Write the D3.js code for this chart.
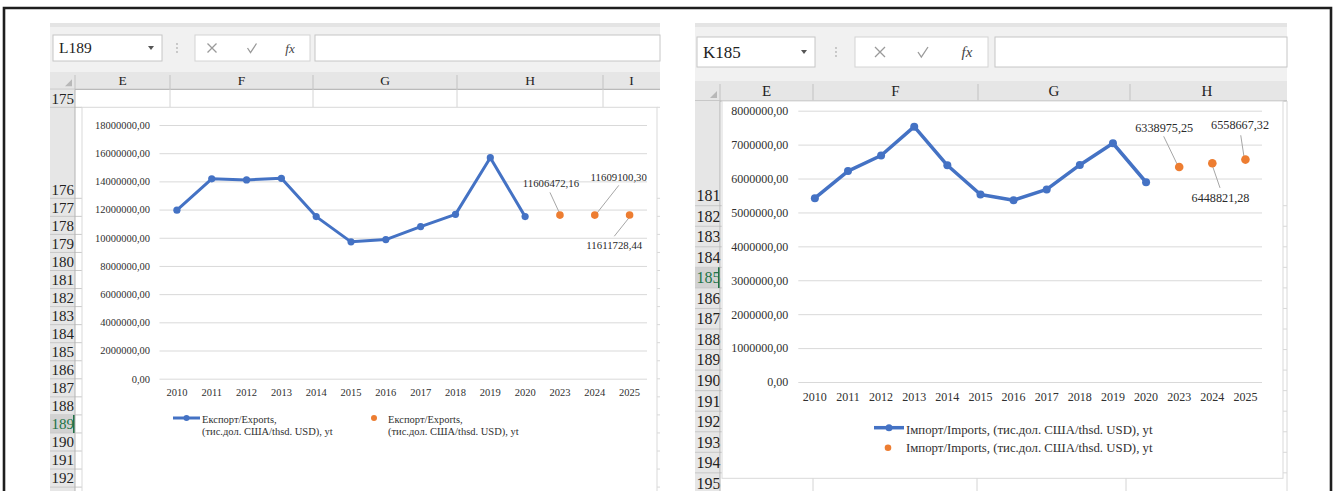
<!DOCTYPE html>
<html><head><meta charset="utf-8">
<script src="https://cdn.jsdelivr.net/npm/d3@7"></script>
<style>html,body{margin:0;padding:0;background:#fff;overflow:hidden}svg{display:block}</style>
</head><body>
<script>
// ---------------- DATA ----------------
const years = ["2010","2011","2012","2013","2014","2015","2016","2017","2018","2019","2020","2023","2024","2025"];
const actualYears = ["2010","2011","2012","2013","2014","2015","2016","2017","2018","2019","2020"];
const forecastYears = ["2023","2024","2025"];
const exportsActual = [11960000, 14180000, 14100000, 14220000, 11500000, 9710000, 9870000, 10790000, 11660000, 15680000, 11500000];
const exportsForecast = [11606472.16, 11609100.30, 11611728.44];
const importsActual = [5420000, 6220000, 6680000, 7530000, 6390000, 5530000, 5360000, 5680000, 6400000, 7040000, 5890000];
const importsForecast = [6338975.25, 6448821.28, 6558667.32];
const exportTicks = [0, 2000000, 4000000, 6000000, 8000000, 10000000, 12000000, 14000000, 16000000, 18000000];
const importTicks = [0, 1000000, 2000000, 3000000, 4000000, 5000000, 6000000, 7000000, 8000000];
const exportLegend = ["Експорт/Exports,", "(тис.дол. США/thsd. USD), yt"];
const importLegend = "Імпорт/Imports, (тис.дол. США/thsd. USD), yt";
const leftColumns = ["E","F","G","H","I"];
const rightColumns = ["E","F","G","H"];
const leftRows = [175,176,177,178,179,180,181,182,183,184,185,186,187,188,189,190,191,192];
const rightRows = [181,182,183,184,185,186,187,188,189,190,191,192,193,194,195];

// ---------------- SETUP ----------------
const W = 1336, H = 491;
const SERIF = "'Liberation Serif','Times New Roman',serif";
const BLUE = "#4472c4", ORANGE = "#ed7d31", TXT = "#303030";
const fmt = v => v.toFixed(2).replace(".", ",");
const svg = d3.select("body").append("svg").attr("width", W).attr("height", H)
  .style("font-family", SERIF);

// ---------------- SHEET CHROME ----------------
function drawSheet(o) {
  const g = svg.append("g");
  g.append("rect").attr("x", o.x0).attr("y", o.top).attr("width", o.x1 - o.x0).attr("height", o.hdrY0 - o.top).attr("fill", "#f1f1f1");
  g.append("rect").attr("x", o.x0).attr("y", o.top).attr("width", o.x1 - o.x0).attr("height", 4).attr("fill", "#e4e4e4");
  const nb = o.nameBox;
  g.append("rect").attr("x", nb.x).attr("y", nb.y).attr("width", nb.w).attr("height", nb.h).attr("fill", "#fff").attr("stroke", "#c6c6c6");
  g.append("text").attr("x", nb.x + 6).attr("y", nb.y + nb.h / 2).attr("dy", "0.35em").attr("font-size", nb.fs).attr("fill", "#222").text(nb.text);
  const ax = nb.x + nb.w - 11, ay = nb.y + nb.h / 2;
  g.append("path").attr("d", `M${ax-3},${ay-2}L${ax+3},${ay-2}L${ax},${ay+2}Z`).attr("fill", "#555");
  [-4, 0, 4].forEach(d => g.append("circle").attr("cx", o.dotsX).attr("cy", nb.y + nb.h / 2 + d).attr("r", 0.9).attr("fill", "#b5b5b5"));
  const cb = o.cancelBox;
  g.append("rect").attr("x", cb.x).attr("y", nb.y).attr("width", cb.w).attr("height", nb.h).attr("fill", "#fff").attr("stroke", "#d4d4d4");
  const cy = nb.y + nb.h / 2;
  const s = o.iconS;
  g.append("path").attr("d", `M${cb.xX-s},${cy-s}L${cb.xX+s},${cy+s}M${cb.xX+s},${cy-s}L${cb.xX-s},${cy+s}`).attr("stroke", "#9a9a9a").attr("stroke-width", 1.3);
  g.append("path").attr("d", `M${cb.xV-s},${cy}L${cb.xV-s/3},${cy+s}L${cb.xV+s},${cy-s}`).attr("stroke", "#9a9a9a").attr("stroke-width", 1.3).attr("fill", "none");
  g.append("text").attr("x", cb.xF).attr("y", cy).attr("dy", "0.35em").attr("text-anchor", "middle").attr("font-style", "italic").attr("font-size", o.fxFs).attr("fill", "#444").text("fx");
  g.append("rect").attr("x", o.formulaX).attr("y", nb.y).attr("width", o.x1 - o.formulaX).attr("height", nb.h).attr("fill", "#fff").attr("stroke", "#c6c6c6");
  g.append("rect").attr("x", o.x0).attr("y", o.hdrY0).attr("width", o.x1 - o.x0).attr("height", o.hdrY1 - o.hdrY0).attr("fill", "#e6e6e6");
  g.append("line").attr("x1", o.x0).attr("x2", o.x1).attr("y1", o.hdrY1).attr("y2", o.hdrY1).attr("stroke", "#ababab");
  const edges = o.colEdges;
  o.columns.forEach((c, i) => {
    g.append("text").attr("x", (edges[i] + edges[i + 1]) / 2).attr("y", (o.hdrY0 + o.hdrY1) / 2).attr("dy", "0.35em")
      .attr("text-anchor", "middle").attr("font-size", o.colFs).attr("fill", "#222").text(c);
  });
  edges.slice(0, -1).forEach(e => g.append("line").attr("x1", e).attr("x2", e).attr("y1", o.hdrY0 + 3).attr("y2", o.hdrY1).attr("stroke", "#c2c2c2"));
  const tx = o.rowX1 - 3, ty = o.hdrY1 - 3;
  g.append("path").attr("d", `M${tx},${ty-7}L${tx},${ty}L${tx-7},${ty}Z`).attr("fill", "#b8b8b8");
  g.append("rect").attr("x", o.x0).attr("y", o.hdrY1).attr("width", o.rowX1 - o.x0).attr("height", H - o.hdrY1).attr("fill", "#e6e6e6");
  o.rows.forEach(r => {
    if (r.sel) g.append("rect").attr("x", o.x0).attr("y", r.y0).attr("width", o.rowX1 - o.x0).attr("height", r.y1 - r.y0).attr("fill", "#d2d2d2");
    g.append("line").attr("x1", o.x0).attr("x2", o.chartX0).attr("y1", r.y1).attr("y2", r.y1).attr("stroke", "#c8c8c8");
    g.append("line").attr("x1", o.chartX1).attr("x2", o.x1).attr("y1", r.y1).attr("y2", r.y1).attr("stroke", "#d8d8d8");
    g.append("text").attr("x", o.x0 + 1.5).attr("y", r.y1 - o.rowStep / 2).attr("dy", "0.35em").attr("font-size", o.rowFs)
      .attr("fill", r.sel ? "#217346" : "#222").text(r.label);
    if (r.sel) g.append("line").attr("x1", o.rowX1 - 1).attr("x2", o.rowX1 - 1).attr("y1", r.y0).attr("y2", r.y1).attr("stroke", "#217346").attr("stroke-width", 2);
  });
  g.append("line").attr("x1", o.rowX1).attr("x2", o.rowX1).attr("y1", o.hdrY1).attr("y2", H).attr("stroke", "#b4b4b4");
  return g;
}

// ---------------- CHART ----------------
function drawChart(c) {
  const g = svg.append("g");
  g.append("rect").attr("x", c.box[0]).attr("y", c.box[1]).attr("width", c.box[2] - c.box[0]).attr("height", c.box[3] - c.box[1])
    .attr("fill", "#fff").attr("stroke", "#d9d9d9");
  const x = d3.scaleBand().domain(years).range(c.xRange);
  const cx = d => x(d) + x.bandwidth() / 2;
  const y = d3.scaleLinear().domain([0, c.yMax]).range(c.yRange);
  const ya = g.append("g").attr("transform", `translate(${c.xRange[0]},0)`)
    .call(d3.axisLeft(y).tickValues(c.ticks).tickSize(-(c.xRange[1] - c.xRange[0])).tickPadding(c.yPad).tickFormat(fmt));
  ya.select(".domain").remove();
  ya.selectAll(".tick line").attr("stroke", "#d9d9d9");
  ya.selectAll(".tick text").attr("font-family", SERIF).attr("font-size", c.fs).attr("fill", TXT);
  const xa = g.append("g").attr("transform", `translate(0,${c.yRange[0]})`)
    .call(d3.axisBottom(x).tickSize(0).tickPadding(c.xPad));
  xa.select(".domain").remove();
  xa.selectAll(".tick text").attr("font-family", SERIF).attr("font-size", c.fs).attr("fill", TXT);
  const pts = actualYears.map((yr, i) => [cx(yr), y(c.actual[i])]);
  g.append("path").attr("d", d3.line()(pts)).attr("fill", "none").attr("stroke", BLUE).attr("stroke-width", c.lw).attr("stroke-linejoin", "round");
  g.selectAll(null).data(pts).join("circle").attr("cx", d => d[0]).attr("cy", d => d[1]).attr("r", c.mr).attr("fill", BLUE);
  const fp = forecastYears.map((yr, i) => [cx(yr), y(c.forecast[i]), c.forecast[i]]);
  fp.forEach((p, i) => {
    const L = c.labels[i];
    const lx = p[0] + L.dx, ly = p[1] + L.dy;
    g.append("line").attr("x1", p[0] + L.p[0]).attr("y1", p[1] + L.p[1]).attr("x2", lx + L.q[0]).attr("y2", ly + L.q[1])
      .attr("stroke", "#a6a6a6").attr("stroke-width", 1);
    g.append("text").attr("x", lx).attr("y", ly).attr("dy", "0.35em").attr("text-anchor", "middle")
      .attr("font-size", c.lfs).attr("fill", "#2a2a2a").text(fmt(p[2]));
  });
  g.selectAll(null).data(fp).join("circle").attr("cx", d => d[0]).attr("cy", d => d[1]).attr("r", c.dr).attr("fill", ORANGE);
  return g;
}

// ---------------- LEFT SHEET ----------------
const lRowStep = 18.05;
const lRows = leftRows.map(n => {
  let y0, y1;
  if (n === 175) { y0 = 89.3; y1 = 107.3; }
  else if (n === 176) { y0 = 107.3; y1 = 198.3; }
  else { y0 = 198.3 + (n - 177) * lRowStep; y1 = y0 + lRowStep; }
  return { label: n, y0, y1, sel: n === 189 };
});
drawSheet({
  x0: 50, x1: 660, top: 23, hdrY0: 72, hdrY1: 89.3, rowX1: 75,
  nameBox: { x: 53, y: 35, w: 109, h: 26, text: "L189", fs: 15.5 },
  dotsX: 177, cancelBox: { x: 195, w: 115, xX: 212, xV: 252, xF: 290 }, iconS: 4.5, fxFs: 13,
  formulaX: 315, columns: leftColumns, colEdges: [75, 170, 313, 457, 603, 660], colFs: 13.5,
  rows: lRows, rowStep: lRowStep, rowFs: 15, chartX0: 82, chartX1: 657
});
[170, 313, 457, 603].forEach(e => svg.append("line").attr("x1", e).attr("x2", e).attr("y1", 89.3).attr("y2", 107.3).attr("stroke", "#d4d4d4"));

drawChart({
  box: [82, 107.3, 657, 520], xRange: [159.5, 647], yRange: [378.7, 125], yMax: 18000000, ticks: exportTicks,
  actual: exportsActual, forecast: exportsForecast, fs: 10.5, lfs: 10.8, yPad: 9.5, xPad: 10.2, lw: 3, mr: 3.6, dr: 3.8,
  labels: [
    { dx: -9, dy: -31.4, p: [-0.4, -2], q: [-1, 8.7] },
    { dx: 24, dy: -37.4, p: [2.2, -2], q: [0, 7.7] },
    { dx: -15.3, dy: 30.5, p: [0, 2], q: [0, -9.3] }
  ]
});
svg.append("line").attr("x1", 173).attr("x2", 200).attr("y1", 418).attr("y2", 418).attr("stroke", BLUE).attr("stroke-width", 3);
svg.append("circle").attr("cx", 186.5).attr("cy", 418).attr("r", 3).attr("fill", BLUE);
exportLegend.forEach((t, i) => svg.append("text").attr("x", 202).attr("y", 419.3 + i * 12.4).attr("dy", "0.35em").attr("font-size", 10.5).attr("fill", TXT).text(t));
svg.append("circle").attr("cx", 374).attr("cy", 418).attr("r", 3).attr("fill", ORANGE);
exportLegend.forEach((t, i) => svg.append("text").attr("x", 388).attr("y", 419.3 + i * 12.4).attr("dy", "0.35em").attr("font-size", 10.5).attr("fill", TXT).text(t));

// ---------------- RIGHT SHEET ----------------
const rRowStep = 20.55;
const rRows = rightRows.map(n => {
  let y0, y1;
  if (n === 181) { y0 = 101; y1 = 205.7; }
  else { y0 = 205.7 + (n - 182) * rRowStep; y1 = y0 + rRowStep; }
  return { label: n, y0, y1, sel: n === 185 };
});
drawSheet({
  x0: 695, x1: 1287, top: 23, hdrY0: 81, hdrY1: 101, rowX1: 720,
  nameBox: { x: 697, y: 37, w: 118, h: 30, text: "K185", fs: 17 },
  dotsX: 836, cancelBox: { x: 855, w: 133, xX: 880, xV: 923, xF: 967 }, iconS: 5, fxFs: 15,
  formulaX: 995, columns: rightColumns, colEdges: [720, 813, 978, 1130, 1284], colFs: 15,
  rows: rRows, rowStep: rRowStep, rowFs: 16, chartX0: 722, chartX1: 1283
});
drawChart({
  box: [722, 101, 1283, 478.3], xRange: [798.3, 1262], yRange: [382, 110.7], yMax: 8000000, ticks: importTicks,
  actual: importsActual, forecast: importsForecast, fs: 12, lfs: 12.2, yPad: 10, xPad: 10.4, lw: 3.5, mr: 4, dr: 4.3,
  labels: [
    { dx: -15, dy: -39.4, p: [-2, -2.7], q: [-0.5, 8.7] },
    { dx: 8.2, dy: 34.6, p: [0.4, 3.3], q: [-0.5, -10] },
    { dx: -5.4, dy: -34.6, p: [-1.4, -2.6], q: [0.7, 10.3] }
  ]
});
[813, 977, 1126].forEach(e => svg.append("line").attr("x1", e).attr("x2", e).attr("y1", 478.3).attr("y2", H).attr("stroke", "#d4d4d4"));
svg.append("line").attr("x1", 1287).attr("x2", 1287).attr("y1", 101).attr("y2", H).attr("stroke", "#d8d8d8");
svg.append("line").attr("x1", 874).attr("x2", 904).attr("y1", 427.7).attr("y2", 427.7).attr("stroke", BLUE).attr("stroke-width", 3.5);
svg.append("circle").attr("cx", 889).attr("cy", 427.7).attr("r", 3.5).attr("fill", BLUE);
svg.append("text").attr("x", 906).attr("y", 429.3).attr("dy", "0.35em").attr("font-size", 12.8).attr("fill", TXT).text(importLegend);
svg.append("circle").attr("cx", 888).attr("cy", 447.7).attr("r", 3.3).attr("fill", ORANGE);
svg.append("text").attr("x", 906).attr("y", 447.7).attr("dy", "0.35em").attr("font-size", 12.8).attr("fill", TXT).text(importLegend);

// ---------------- OUTER FRAME ----------------
svg.append("path").attr("d", `M4,${H}V8H1331V${H}`).attr("fill", "none").attr("stroke", "#1e1e1e").attr("stroke-width", 2.6);
</script>
</body></html>
